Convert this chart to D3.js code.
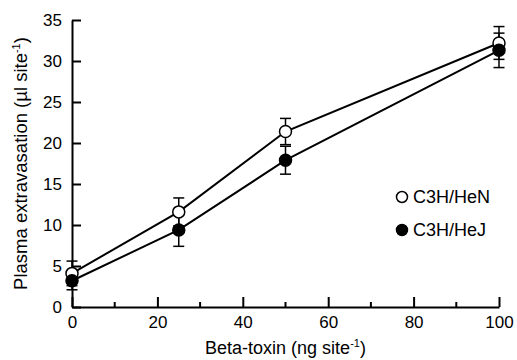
<!DOCTYPE html>
<html>
<head>
<meta charset="utf-8">
<script src="https://cdn.jsdelivr.net/npm/d3@7"></script>
<style>
  body { margin: 0; background: #fff; }
  text { font-family: "Liberation Sans", Arial, sans-serif; fill: #000; }
</style>
</head>
<body>
<div id="chart"></div>
<script>
// toxin doses (ng site-1)
const doses = [0, 25, 50, 100];
// C3H/HeN (open circles)
const henMean = [4.1, 11.6, 21.4, 32.2];
const henErr = [1.5, 1.7, 1.6, 2.0];
// C3H/HeJ (filled circles)
const hejMean = [3.2, 9.4, 17.9, 31.3];
const hejErr = [1.1, 2.0, 1.7, 2.1];

const xTicks = [0, 20, 40, 60, 80, 100];
const xMinor = [10, 30, 50, 70, 90];
const yTicks = [0, 5, 10, 15, 20, 25, 30, 35];

const w = 517, h = 360;
const margin = {left: 72, right: 18, top: 20, bottom: 53};

const svg = d3.select('#chart').append('svg')
  .attr('width', w)
  .attr('height', h);

const x = d3.scaleLinear().domain([0, 100]).range([margin.left, w - margin.right]);
const y = d3.scaleLinear().domain([0, 35]).range([h - margin.bottom, margin.top]);

// axes - ticks point inward
const xAxis = d3.axisBottom(x).tickValues(xTicks).tickSizeInner(-10).tickSizeOuter(0);
const gx = svg.append('g')
  .attr('transform', 'translate(0,' + (h - margin.bottom) + ')')
  .call(xAxis);
gx.selectAll('.tick text').attr('dy', '0.71em').attr('y', 9).style('font-size', '17px');

svg.append('g')
  .attr('transform', 'translate(0,' + (h - margin.bottom) + ')')
  .selectAll('line')
  .data(xMinor)
  .enter()
  .append('line')
  .attr('x1', d => x(d)).attr('x2', d => x(d))
  .attr('y1', 0).attr('y2', -5)
  .attr('stroke', '#000').attr('stroke-width', 2);

const yAxis = d3.axisLeft(y).tickValues(yTicks).tickSizeInner(-9).tickSizeOuter(0);
const gy = svg.append('g')
  .attr('transform', 'translate(' + margin.left + ',0)')
  .call(yAxis);
gy.selectAll('.tick text').attr('x', -10).style('font-size', '17px');

svg.selectAll('.domain, .tick line').attr('stroke', '#000').attr('stroke-width', 2);

// axis titles
const xt = svg.append('text')
  .attr('x', (x(0) + x(100)) / 2)
  .attr('y', h - 6)
  .attr('text-anchor', 'middle')
  .style('font-size', '18px')
  .text('Beta-toxin (ng site');
xt.append('tspan').attr('dy', -7).style('font-size', '11px').text('-1');
xt.append('tspan').attr('dy', 7).text(')');

const yt = svg.append('text')
  .attr('transform', 'translate(27,' + ((y(0) + y(35)) / 2) + ') rotate(-90)')
  .attr('text-anchor', 'middle')
  .style('font-size', '18.5px')
  .text('Plasma extravasation (\u00b5l site');
yt.append('tspan').attr('dy', -7).style('font-size', '11px').text('-1');
yt.append('tspan').attr('dy', 7).text(')');

const series = [
  {name: 'C3H/HeN', mean: henMean, err: henErr, fill: '#fff'},
  {name: 'C3H/HeJ', mean: hejMean, err: hejErr, fill: '#000'}
];

const line = d3.line().x(d => x(d[0])).y(d => y(d[1]));

series.forEach(s => {
  const pts = doses.map((d, i) => [d, s.mean[i], s.err[i]]);
  svg.append('path')
    .attr('d', line(pts))
    .attr('fill', 'none')
    .attr('stroke', '#000')
    .attr('stroke-width', 2);
  const eb = svg.append('g');
  pts.forEach(p => {
    eb.append('line')
      .attr('x1', x(p[0])).attr('x2', x(p[0]))
      .attr('y1', y(p[1] - p[2])).attr('y2', y(p[1] + p[2]))
      .attr('stroke', '#000').attr('stroke-width', 1.5);
    [p[1] - p[2], p[1] + p[2]].forEach(v => {
      eb.append('line')
        .attr('x1', x(p[0]) - 5.5).attr('x2', x(p[0]) + 5.5)
        .attr('y1', y(v)).attr('y2', y(v))
        .attr('stroke', '#000').attr('stroke-width', 1.5);
    });
  });
});

series.forEach(s => {
  svg.append('g').selectAll('circle')
    .data(doses.map((d, i) => [d, s.mean[i]]))
    .enter()
    .append('circle')
    .attr('cx', d => x(d[0]))
    .attr('cy', d => y(d[1]))
    .attr('r', 6)
    .attr('fill', s.fill)
    .attr('stroke', '#000')
    .attr('stroke-width', 1.5);
});

// legend
const legend = svg.append('g').attr('transform', 'translate(402,197)');
series.forEach((s, i) => {
  const g = legend.append('g').attr('transform', 'translate(0,' + (i * 33) + ')');
  g.append('circle').attr('r', 5.5).attr('fill', s.fill).attr('stroke', '#000').attr('stroke-width', 1.5);
  g.append('text').attr('x', 11).attr('dy', '0.36em').style('font-size', '18px').text(s.name);
});
</script>
</body>
</html>
